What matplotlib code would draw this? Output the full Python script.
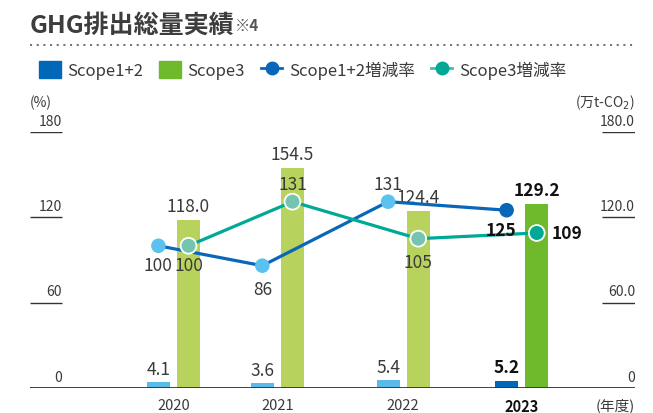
import numpy as np
import matplotlib.pyplot as plt
from matplotlib.patches import Patch
from matplotlib.lines import Line2D

plt.rcParams['font.family'] = ['Noto Sans CJK JP', 'DejaVu Sans']

years = ['2020', '2021', '2022', '2023']
scope12 = [4.1, 3.6, 5.4, 5.2]
scope3 = [118.0, 154.5, 124.4, 129.2]
scope12_rate = [100, 86, 131, 125]
scope3_rate = [100, 131, 105, 109]
tick_vals = [0, 60, 120, 180]
left_ticks = ['0', '60', '120', '180']
right_ticks = ['0', '60.0', '120.0', '180.0']

# layout: group centres are not evenly spaced in the original
gx = np.array([0.0, 1.0, 2.21, 3.35])
bw = 0.22
off = 0.145

txt = '#3a3a3a'
c12_bar = ['#5bbbe8', '#5bbbe8', '#5bbbe8', '#0068b7']
c3_bar = ['#b8d35d', '#b8d35d', '#b8d35d', '#6fb92c']
c12_line = '#0a66b8'
c12_mk = ['#5bc2f0', '#5bc2f0', '#5bc2f0', '#0a66b8']
c3_line = '#00a996'
c3_mk = ['#74c4b0', '#74c4b0', '#74c4b0', '#00a996']

fig = plt.figure(figsize=(6.53, 4.14), dpi=100)
ax = fig.add_axes([30 / 653, 25 / 414, 605 / 653, 256 / 414])
ax.set_xlim(-1.38, 4.44)
ax.set_ylim(0, 180)
for s in ax.spines.values():
    s.set_visible(False)
ax.set_yticks([])

# bars
ax.bar(gx - off, scope12, bw, color=c12_bar, zorder=2)
ax.bar(gx + off, scope3, bw, color=c3_bar, zorder=2)
ax.axhline(0, color='#333333', lw=1.3, zorder=3)

last = len(years) - 1
for i in range(len(years)):
    fw = 'bold' if i == last else 'normal'
    col = '#111111' if i == last else txt
    ax.annotate(f'{scope12[i]:.1f}', (gx[i] - off, scope12[i]), xytext=(0, 9.5),
                textcoords='offset points', ha='center', va='center',
                fontsize=12.5, color=col, fontweight=fw)
    ax.annotate(f'{scope3[i]:.1f}', (gx[i] + off, scope3[i]), xytext=(0, 10),
                textcoords='offset points', ha='center', va='center',
                fontsize=12.5, color=col, fontweight=fw)

# rate lines
ax.plot(gx - off, scope12_rate, color=c12_line, lw=2.3, zorder=4)
ax.scatter(gx - off, scope12_rate, s=110, c=c12_mk, edgecolors='none', zorder=5)
ax.plot(gx + off, scope3_rate, color=c3_line, lw=2.3, zorder=4)
ax.scatter(gx + off, scope3_rate, s=130, c=c3_mk, edgecolors='white', linewidths=1.3, zorder=5)

o12 = [(0, -14), (0, -17), (0, 13), (-4, -14)]
o3 = [(0, -14), (0, 12.5), (0, -16.5), (22, 0)]
for i in range(len(years)):
    fw = 'bold' if i == last else 'normal'
    col = '#111111' if i == last else txt
    ax.annotate(str(scope12_rate[i]), (gx[i] - off, scope12_rate[i]), xytext=o12[i],
                textcoords='offset points', ha='center', va='center',
                fontsize=12.5, color=col, fontweight=fw, zorder=6)
    ax.annotate(str(scope3_rate[i]), (gx[i] + off, scope3_rate[i]), xytext=o3[i],
                textcoords='offset points', ha='center', va='center',
                fontsize=12.5, color=col, fontweight=fw, zorder=6)

# y tick labels with short underlines
yt = ax.get_yaxis_transform()
for v, l, r in zip(tick_vals, left_ticks, right_ticks):
    if v > 0:
        ax.hlines(v, 0, 32 / 605, transform=yt, color='#333333', lw=1.0)
        ax.hlines(v, 1 - 33 / 605, 1, transform=yt, color='#333333', lw=1.0)
    ax.annotate(l, (32 / 605, v), xycoords=yt, xytext=(0, 3), textcoords='offset points',
                ha='right', va='bottom', fontsize=10, color=txt)
    ax.annotate(r, (1, v), xycoords=yt, xytext=(0, 3), textcoords='offset points',
                ha='right', va='bottom', fontsize=10, color=txt)

ax.annotate('(%)', (0, 1), xycoords='axes fraction', xytext=(0, 22), textcoords='offset points',
            ha='left', va='center', fontsize=10, color=txt)
ax.annotate('(万t-CO$_2$)', (1, 1), xycoords='axes fraction', xytext=(0, 22),
            textcoords='offset points', ha='right', va='center', fontsize=10, color=txt)

# x labels
ax.set_xticks(gx)
ax.set_xticklabels(years, fontsize=10.5, color=txt)
ax.get_xticklabels()[last].set_fontweight('bold')
ax.get_xticklabels()[last].set_color('#111111')
ax.tick_params(axis='x', length=0, pad=7)
ax.annotate('(年度)', (1, 0), xycoords='axes fraction', xytext=(0, -12),
            textcoords='offset points', ha='right', va='center', fontsize=10.5, color=txt)

# title
t = fig.text(30 / 653, 1 - 33 / 414, 'GHG排出総量実績', fontsize=18, fontweight='bold',
             color='#3d3d3d', va='baseline', ha='left')
fig.canvas.draw()
bb = t.get_window_extent()
fig.text(bb.x1 / 653, 1 - 31 / 414, '※4', fontsize=11, fontweight='bold',
         color='#555555', va='baseline', ha='left')
fig.add_artist(Line2D([30 / 653, 635 / 653], [1 - 46 / 414, 1 - 46 / 414],
                      transform=fig.transFigure, color='#777777', lw=1.5,
                      linestyle=(0, (1, 2.2))))

# legend
handles = [
    Patch(color='#0068b7'),
    Patch(color='#6fb92c'),
    Line2D([], [], color='#0a66b8', lw=2, marker='o', markersize=9),
    Line2D([], [], color='#3cc0b8', lw=2, marker='o', markersize=9,
           markerfacecolor='#00a996', markeredgecolor='#00a996'),
]
labels = ['Scope1+2', 'Scope3', 'Scope1+2増減率', 'Scope3増減率']
fig.legend(handles, labels, loc='center left', bbox_to_anchor=(24 / 653, 1 - 71 / 414),
           ncol=4, frameon=False, fontsize=12, handlelength=1.3, handleheight=1.2,
           handletextpad=0.4, columnspacing=0.95, labelcolor=txt)

fig.savefig('out.png', dpi=100)
